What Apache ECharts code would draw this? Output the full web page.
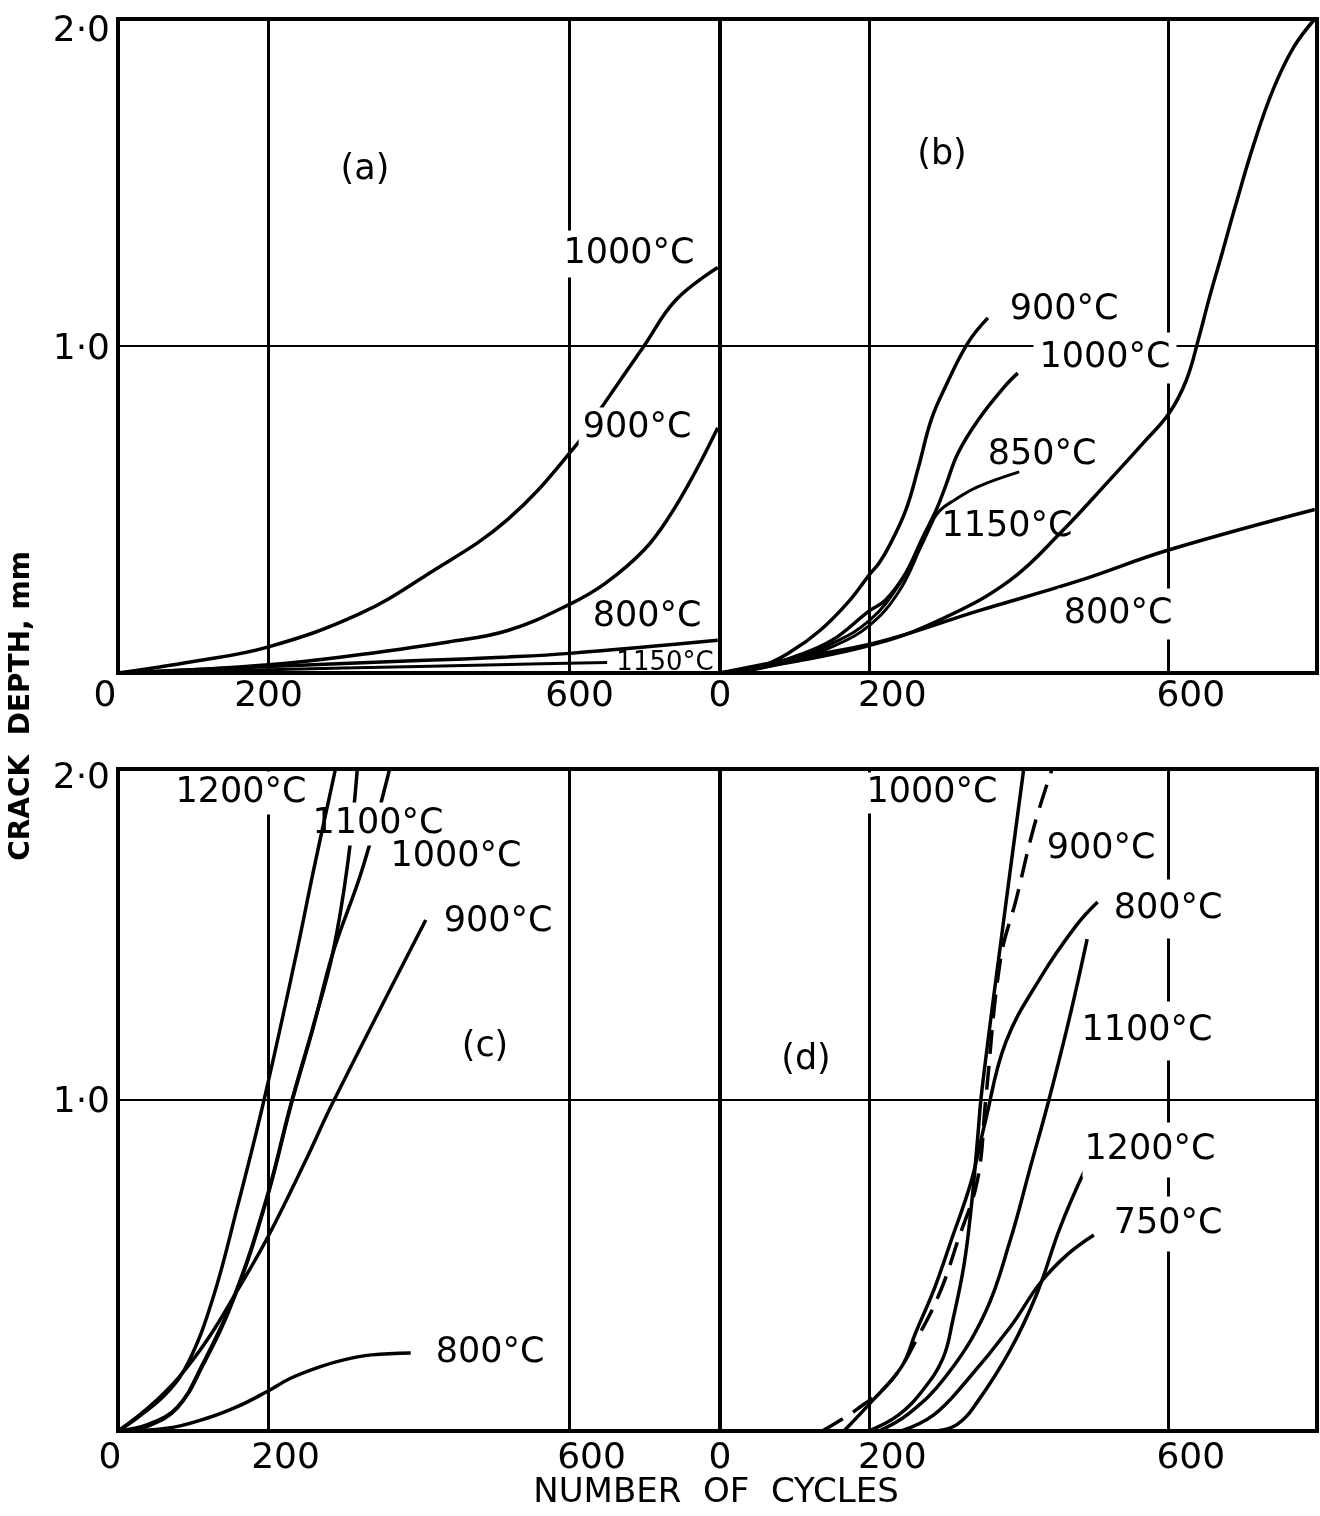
<!DOCTYPE html>
<html>
<head>
<meta charset="utf-8">
<script src="https://cdn.jsdelivr.net/npm/echarts@6.0.0/dist/echarts.min.js"></script>
<style>
html,body{margin:0;padding:0;background:#fff;}
#chart{width:1320px;height:1516px;}
</style>
</head>
<body>
<div id="chart"></div>
<script>
// ---------------- data: [number of cycles, crack depth mm] ----------------
const xTickValues = [0, 200, 600];
const yTickLabels = {1: '1·0', 2: '2·0'};

// panel (a)
const a1000 = [[0,0],[100,0.035],[200,0.08],[320,0.18],[410,0.30],[518,0.47],[610,0.70],[642,0.81],[699,1.0],[741,1.14],[797,1.24]];
const a900  = [[0,0],[100,0.01],[200,0.025],[300,0.05],[439,0.095],[518,0.13],[600,0.21],[648,0.275],[699,0.376],[733,0.48],[766,0.61],[797,0.75]];
const a800  = [[0,0],[200,0.02],[400,0.038],[518,0.049],[600,0.06],[797,0.10]];
const a1150 = [[0,0],[200,0.01],[400,0.02],[520,0.026],[650,0.032]];

// panel (b)
const b900  = [[0,0],[54,0.02],[94,0.064],[134,0.13],[173,0.22],[200,0.30],[213,0.336],[226,0.385],[249,0.498],[266,0.63],[283,0.774],[302,0.875],[332,1.009],[359,1.086]];
const b1000 = [[0,0],[50,0.015],[100,0.05],[150,0.1],[200,0.19],[222,0.223],[249,0.306],[270,0.407],[290,0.50],[302,0.57],[319,0.673],[346,0.774],[381,0.875],[399,0.917]];
const b850  = [[0,0],[50,0.014],[100,0.045],[150,0.09],[200,0.16],[240,0.27],[270,0.40],[292,0.49],[315,0.53],[346,0.57],[401,0.615]];
const b1150 = [[0,0],[50,0.012],[100,0.04],[150,0.08],[200,0.145],[240,0.25],[270,0.39],[286,0.47]];
const bUpper = [[0,0],[100,0.035],[213,0.092],[302,0.17],[389,0.284],[456,0.428],[522,0.59],[567,0.703],[602,0.795],[625,0.896],[642,1.028],[655,1.141],[671,1.269],[691,1.431],[715,1.615],[741,1.783],[768,1.911],[797,2.0]];
const b800  = [[0,0],[100,0.045],[213,0.095],[346,0.19],[478,0.28],[601,0.376],[797,0.50]];

// panel (c)
const c1200 = [[0,0],[27,0.042],[65,0.115],[94,0.21],[126,0.40],[159,0.68],[193,0.99],[235,1.42],[260,1.695],[289,2.0]];
const c1100 = [[0,0],[40,0.02],[79,0.073],[112,0.2],[154,0.405],[197,0.70],[230,0.99],[259,1.22],[285,1.44],[305,1.71],[318,2.0]];
const c1000 = [[0,0],[40,0.015],[79,0.07],[112,0.195],[154,0.40],[197,0.695],[230,0.985],[259,1.215],[285,1.44],[325,1.70],[361,2.0]];
const c900  = [[0,0],[40,0.07],[80,0.16],[120,0.28],[160,0.43],[200,0.59],[250,0.82],[285,0.99],[409,1.544]];
const c800  = [[0,0],[65,0.008],[120,0.04],[160,0.075],[197,0.118],[230,0.16],[267,0.193],[300,0.215],[337,0.23],[389,0.236]];

// panel (d)
const d1000 = [[199,0],[239,0.048],[272,0.124],[299,0.221],[312,0.335],[327,0.502],[337,0.683],[345,0.879],[351,1.03],[379,1.523],[407,2.0]];
const d900  = [[137,0],[182,0.063],[230,0.154],[268,0.296],[296,0.426],[319,0.577],[345,0.758],[356,1.0],[376,1.426],[397,1.607],[421,1.828],[445,2.0]];
const d800  = [[166,0],[199,0.079],[243,0.193],[262,0.296],[288,0.435],[310,0.577],[336,0.749],[355,0.93],[383,1.175],[431,1.375],[477,1.526],[506,1.598]];
const d1100 = [[213,0],[252,0.051],[302,0.163],[355,0.356],[389,0.577],[416,0.798],[440,0.994],[468,1.245],[492,1.486]];
const d1200 = [[290,0],[318,0.02],[344,0.085],[389,0.245],[425,0.417],[456,0.616],[489,0.789]];
const d750  = [[243,0],[286,0.048],[328,0.145],[389,0.314],[429,0.447],[465,0.532],[501,0.592]];

const gridLinesX = [200, 600];

// ---------------- chart ----------------
const FONT = 'DejaVu Sans';
const chart = echarts.init(document.getElementById('chart'), null, {renderer: 'canvas', width: 1320, height: 1516});

const grids = [
  {left: 118, top: 19,  width: 602, height: 654},
  {left: 720, top: 19,  width: 604, height: 654},
  {left: 118, top: 769, width: 602, height: 662},
  {left: 720, top: 769, width: 604, height: 662}
].map(g => Object.assign({show: true, borderColor: '#000', borderWidth: 4, backgroundColor: 'transparent'}, g));

const TICK_FS = 36;
const xRich = {
  l13: {padding: [0, 26, 0, 0]},
  l8:  {padding: [0, 16, 0, 0]},
  n:   {},
  r10: {padding: [0, 0, 0, 20]},
  r17: {padding: [0, 0, 0, 34]},
  r22: {padding: [0, 0, 0, 44]},
  r24: {padding: [0, 0, 0, 46]}
};
Object.values(xRich).forEach(s => { s.fontSize = TICK_FS; s.fontFamily = FONT; s.color = '#000'; });
const xStyleKeys = [
  {0: 'l13', 200: 'n',   600: 'r10'},
  {0: 'n',   200: 'r24', 600: 'r24'},
  {0: 'l8',  200: 'r17', 600: 'r22'},
  {0: 'n',   200: 'r24', 600: 'r24'}
];
const xMargins = [6, 6, 10, 10];

const xAxes = grids.map((g, i) => ({
  type: 'value', gridIndex: i, min: 0, max: 800, interval: 200,
  axisLine: {show: true, onZero: false, lineStyle: {color: '#000', width: 4}},
  axisTick: {show: false},
  splitLine: {show: false},
  axisLabel: {
    margin: xMargins[i], fontSize: TICK_FS, fontFamily: FONT, color: '#000',
    formatter: v => xTickValues.includes(v) ? '{' + xStyleKeys[i][v] + '|' + v + '}' : '',
    rich: xRich
  }
}));

const yRich = {
  t26: {padding: [26, 0, 0, 0]},
  t20: {padding: [20, 0, 0, 0]},
  t8:  {padding: [8, 0, 0, 0]},
  t6:  {padding: [6, 0, 0, 0]}
};
Object.values(yRich).forEach(s => { s.fontSize = TICK_FS; s.fontFamily = FONT; s.color = '#000'; });
const yStyleKeys = [{2: 't26', 1: 't8'}, null, {2: 't20', 1: 't6'}, null];

const yAxes = grids.map((g, i) => ({
  type: 'value', gridIndex: i, min: 0, max: 2, interval: 1,
  axisLine: {show: true, onZero: false, lineStyle: {color: '#000', width: 4}},
  axisTick: {show: false},
  splitLine: {show: true, lineStyle: {color: '#000', width: 2}},
  axisLabel: {
    show: yStyleKeys[i] !== null, margin: 8, fontSize: TICK_FS, fontFamily: FONT, color: '#000',
    formatter: v => (yStyleKeys[i] && yTickLabels[v]) ? '{' + yStyleKeys[i][v] + '|' + yTickLabels[v] + '}' : '',
    rich: yRich
  }
}));

function curve(name, data, idx, extra) {
  const s = {
    name: name, type: 'line', xAxisIndex: idx, yAxisIndex: idx, data: data,
    smooth: 0.4, symbol: 'none', clip: true, z: 3,
    lineStyle: {color: '#000', width: 3.5}
  };
  return Object.assign(s, extra || {});
}
function withGrid(s) {
  s.markLine = {
    silent: true, symbol: ['none', 'none'], label: {show: false},
    lineStyle: {color: '#000', width: 3, type: 'solid'},
    data: gridLinesX.map(x => ({xAxis: x}))
  };
  return s;
}

const series = [
  withGrid(curve('1000°C (a)', a1000, 0)),
  curve('900°C (a)', a900, 0),
  curve('800°C (a)', a800, 0),
  curve('1150°C (a)', a1150, 0, {lineStyle: {color: '#000', width: 3}}),

  withGrid(curve('900°C (b)', b900, 1)),
  curve('1000°C (b)', b1000, 1),
  curve('850°C (b)', b850, 1, {lineStyle: {color: '#000', width: 3}}),
  curve('1150°C (b)', b1150, 1, {lineStyle: {color: '#000', width: 3}}),
  curve('upper curve (b)', bUpper, 1),
  curve('800°C (b)', b800, 1),

  withGrid(curve('1100°C (c)', c1100, 2)),
  curve('1000°C (c)', c1000, 2),
  curve('900°C (c)', c900, 2),
  curve('800°C (c)', c800, 2),
  curve('1200°C (c)', c1200, 2, {z: 200}),

  withGrid(curve('1000°C (d)', d1000, 3)),
  curve('900°C (d)', d900, 3, {lineStyle: {color: '#000', width: 3.5, type: [24, 12]}}),
  curve('800°C (d)', d800, 3),
  curve('1100°C (d)', d1100, 3),
  curve('1200°C (d)', d1200, 3),
  curve('750°C (d)', d750, 3)
];

// curve and panel labels (text annotations)
const labelFont = '35px "' + FONT + '"';
function lbl(text, x, y, opt) {
  opt = opt || {};
  return {
    type: 'text', x: x, y: y, z: 100, silent: true,
    style: {
      text: text, x: 0, y: 0, fill: '#000',
      font: opt.font || labelFont,
      align: 'center', verticalAlign: 'middle', textAlign: 'center', textVerticalAlign: 'middle',
      backgroundColor: opt.bg === false ? undefined : '#fff',
      padding: opt.padding || [3, 4]
    }
  };
}
const graphics = [
  lbl('1000°C', 629, 254, {padding: [6, 4]}),
  lbl('900°C', 637, 428),
  lbl('800°C', 647, 617),
  lbl('1150°C', 665, 663, {font: '26px "' + FONT + '"', bg: false}),
  lbl('(a)', 365, 170, {bg: false}),

  lbl('900°C', 1064, 310),
  lbl('1000°C', 1105, 358, {padding: [8, 6]}),
  lbl('850°C', 1042, 455, {bg: false}),
  lbl('1150°C', 1007, 527, {bg: false}),
  lbl('800°C', 1118, 614, {padding: [8, 6]}),
  lbl('(b)', 942, 155, {bg: false}),

  lbl('1200°C', 241, 793, {padding: [2, 4, 6, 4]}),
  lbl('1100°C', 378, 824, {padding: [4, 4]}),
  lbl('1000°C', 456, 857, {padding: [4, 4]}),
  lbl('900°C', 498, 922),
  lbl('800°C', 490, 1353),
  lbl('(c)', 485, 1047, {bg: false}),

  lbl('1000°C', 932, 793),
  lbl('900°C', 1104, 849, {padding: [10, 10, 10, 4]}),
  lbl('800°C', 1168, 909, {padding: [12, 6]}),
  lbl('1100°C', 1147, 1031, {padding: [12, 6]}),
  lbl('1200°C', 1152, 1150, {padding: [10, 6, 10, 2]}),
  lbl('750°C', 1168, 1224, {padding: [10, 6]}),
  lbl('(d)', 806, 1060, {bg: false}),

  {
    type: 'text', x: 716, y: 1493, z: 100, silent: true,
    style: {text: 'NUMBER  OF  CYCLES', x: 0, y: 0, fill: '#000', font: '34px "' + FONT + '"',
            align: 'center', verticalAlign: 'middle', textAlign: 'center', textVerticalAlign: 'middle'}
  },
  {
    type: 'text', x: 22, y: 706, rotation: Math.PI / 2, z: 100, silent: true,
    style: {text: 'CRACK  DEPTH, mm', x: 0, y: 0, fill: '#000', font: 'bold 28px "' + FONT + '"',
            align: 'center', verticalAlign: 'middle', textAlign: 'center', textVerticalAlign: 'middle'}
  }
];

chart.setOption({
  animation: false,
  backgroundColor: '#fff',
  grid: grids,
  xAxis: xAxes,
  yAxis: yAxes,
  series: series,
  graphic: graphics
});
</script>
</body>
</html>
